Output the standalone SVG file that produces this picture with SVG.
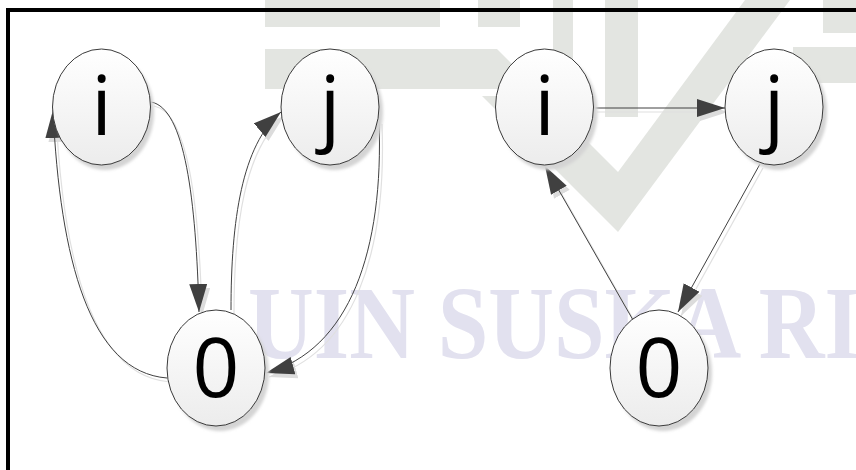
<svg xmlns="http://www.w3.org/2000/svg" width="856" height="470" viewBox="0 0 856 470">
  <defs>
    <linearGradient id="nodeFill" x1="0" y1="0" x2="0" y2="1">
      <stop offset="0" stop-color="#ffffff"/>
      <stop offset="1" stop-color="#ececec"/>
    </linearGradient>
    <filter id="soft" x="-20%" y="-20%" width="140%" height="140%">
      <feGaussianBlur stdDeviation="1.6"/>
    </filter>
    <marker id="arrow" markerUnits="userSpaceOnUse" markerWidth="30" markerHeight="20" refX="28" refY="9" orient="auto">
      <path d="M0,0 L28,9 L0,18 Z" fill="#404040"/>
    </marker>
    <marker id="arrowShade" markerUnits="userSpaceOnUse" markerWidth="30" markerHeight="20" refX="28" refY="9" orient="auto">
      <path d="M0,0 L28,9 L0,18 Z" fill="#dcdcdc"/>
    </marker>
  </defs>
  <style>
    .logo { fill: #e3e5e1; }
    .mark { fill: #e2e1ef; font-family: "Liberation Serif", serif; font-weight: bold; font-size: 104px; }
    .edge { fill: none; stroke: #404040; stroke-width: 1; marker-end: url(#arrow); }
    .edge-shade { fill: none; stroke: #e0e0e0; stroke-width: 1.2; marker-end: url(#arrowShade); }
    .node-shade { fill: #d4d4d4; filter: url(#soft); }
    .node-body { fill: url(#nodeFill); stroke: #3a3a3a; stroke-width: 1; }
    .label { font-family: "Open Sans", "Noto Sans", sans-serif; font-size: 82px; fill: #000; text-anchor: middle; }
  </style>

  <rect width="856" height="470" fill="#ffffff"/>

  <!-- background emblem -->
  <g id="emblem">
    <rect class="logo" x="265" y="0" width="175" height="27"/>
    <rect class="logo" x="478" y="0" width="42" height="27"/>
    <polygon class="logo" points="265,49 497,49 537,89 265,89"/>
    <polygon class="logo" points="482,96 542,96 618,172 618,232"/>
    <polygon class="logo" points="618,172 745,0 790,0 618,232"/>
    <rect class="logo" x="605" y="0" width="33" height="117"/>
    <rect class="logo" x="553" y="0" width="20" height="60"/>
    <rect class="logo" x="823" y="0" width="33" height="33"/>
    <rect class="logo" x="793" y="47" width="63" height="36"/>
  </g>
  <text class="mark" x="248" y="358" textLength="612" lengthAdjust="spacingAndGlyphs">UIN SUSKA RI</text>

  <!-- frame -->
  <rect x="8" y="10" width="900" height="500" fill="none" stroke="#000" stroke-width="4"/>

  <!-- connectors -->
  <g id="connectors">
    <g transform="translate(3,4)">
      <path class="edge-shade" d="M151,102 C185,108 196,200 199,312"/>
      <path class="edge-shade" d="M231,310 C231,220 242,145 281,112"/>
      <path class="edge-shade" d="M379,120 C384,250 350,350 266,373"/>
      <path class="edge-shade" d="M167,378 C90,372 60,260 53,110"/>
      <path class="edge-shade" d="M594,108 L725,108"/>
      <path class="edge-shade" d="M633,320 L545,166"/>
      <path class="edge-shade" d="M760,164 L678,312"/>
    </g>
    <path id="e-i0-left" class="edge" d="M151,102 C185,108 196,200 199,312"/>
    <path id="e-0j-left" class="edge" d="M231,310 C231,220 242,145 281,112"/>
    <path id="e-j0-left" class="edge" d="M379,120 C384,250 350,350 266,373"/>
    <path id="e-0i-left" class="edge" d="M167,378 C90,372 60,260 53,110"/>
    <path id="e-ij-right" class="edge" d="M594,108 L725,108"/>
    <path id="e-0i-right" class="edge" d="M633,320 L545,166"/>
    <path id="e-j0-right" class="edge" d="M760,164 L678,312"/>
  </g>

  <!-- left graph -->
  <g id="node-i-left">
    <ellipse class="node-shade" cx="105" cy="112" rx="49" ry="58"/>
    <ellipse class="node-body" cx="101.5" cy="107" rx="49" ry="58"/>
    <text class="label" x="101.5" y="135">i</text>
  </g>
  <g id="node-j-left">
    <ellipse class="node-shade" cx="334" cy="112" rx="49" ry="58"/>
    <ellipse class="node-body" cx="330" cy="107" rx="49" ry="58"/>
    <text class="label" x="330" y="135">j</text>
  </g>
  <g id="node-0-left">
    <ellipse class="node-shade" cx="220" cy="373" rx="49" ry="58"/>
    <ellipse class="node-body" cx="216" cy="368" rx="49" ry="58"/>
    <text class="label" x="216" y="397">0</text>
  </g>

  <!-- right graph -->
  <g id="node-i-right">
    <ellipse class="node-shade" cx="548.5" cy="112" rx="49" ry="58"/>
    <ellipse class="node-body" cx="544.5" cy="107" rx="49" ry="58"/>
    <text class="label" x="544.5" y="135">i</text>
  </g>
  <g id="node-j-right">
    <ellipse class="node-shade" cx="778" cy="112" rx="49" ry="58"/>
    <ellipse class="node-body" cx="774" cy="107" rx="49" ry="58"/>
    <text class="label" x="774" y="135">j</text>
  </g>
  <g id="node-0-right">
    <ellipse class="node-shade" cx="663" cy="373" rx="49" ry="58"/>
    <ellipse class="node-body" cx="659" cy="368" rx="49" ry="58"/>
    <text class="label" x="659" y="397">0</text>
  </g>
</svg>
